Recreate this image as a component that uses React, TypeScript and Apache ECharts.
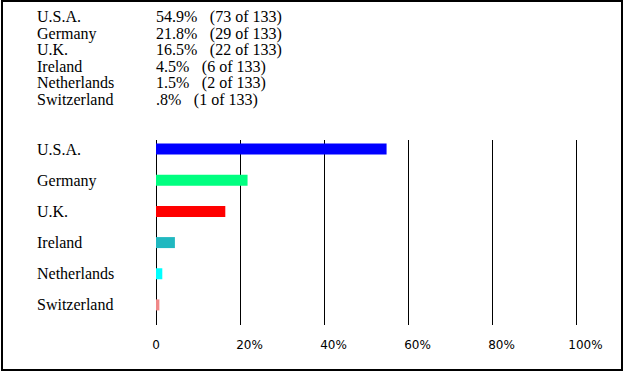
import React, { useEffect, useRef } from "react";
import * as echarts from "echarts";

const countries = ["U.S.A.", "Germany", "U.K.", "Ireland", "Netherlands", "Switzerland"];
const counts = [73, 29, 22, 6, 2, 1];
const total = 133;
const percents = [54.9, 21.8, 16.5, 4.5, 1.5, 0.8];
const percentLabels = ["54.9%", "21.8%", "16.5%", "4.5%", "1.5%", ".8%"];
const barColors = ["#0000ff", "#00ff80", "#ff0000", "#20b8c0", "#00ffff", "#f08888"];
const xTickLabels = ["0", "20%", "40%", "60%", "80%", "100%"];

const SERIF = "'Liberation Serif', 'Times New Roman', serif";
const SANS = "'DejaVu Sans', Verdana, sans-serif";

export default function App() {
  const ref = useRef<HTMLDivElement>(null);
  useEffect(() => {
    if (!ref.current) return;
    const chart = echarts.init(ref.current, null, { renderer: "svg" });
    const left = 156;
    const width = 420;

    const textBlock: any[] = [];
    countries.forEach((c, i) => {
      const y = 16.5 + i * 16.5;
      textBlock.push({
        type: "text",
        x: 37,
        y,
        style: { text: c, font: `16px ${SERIF}`, fill: "#000", verticalAlign: "middle", align: "left" },
      });
      textBlock.push({
        type: "text",
        x: 156,
        y,
        style: {
          text: `{p|${percentLabels[i]}}{c|(${counts[i]} of ${total})}`,
          font: `16px ${SERIF}`,
          fill: "#000",
          verticalAlign: "middle",
          align: "left",
          rich: {
            p: { font: `16px ${SERIF}`, fill: "#000" },
            c: { font: `16px ${SERIF}`, fill: "#000", padding: [0, 0, 0, 12.5] },
          },
        },
      });
    });

    chart.setOption({
      animation: false,
      backgroundColor: "#ffffff",
      grid: [
        { left, width, top: 133.5, height: 187 },
        { left, width, top: 140, height: 185 },
      ],
      xAxis: [
        { gridIndex: 0, type: "value", min: 0, max: 100, interval: 20, show: false },
        {
          gridIndex: 1,
          type: "value",
          min: 0,
          max: 100,
          interval: 20,
          axisLine: { show: false },
          axisTick: { show: false },
          splitLine: { show: true, lineStyle: { color: "#000", width: 1, type: "solid" } },
          axisLabel: {
            margin: 14,
            formatter: (v: number) => {
              const idx = Math.round(v / 20);
              const t = xTickLabels[idx];
              return idx === 0 ? `{z|${t}}` : `{t|${t}}`;
            },
            rich: {
              z: { fontFamily: SANS, fontSize: 12, color: "#000" },
              t: { fontFamily: SANS, fontSize: 12, color: "#000", padding: [0, 0, 0, 19] },
            },
          },
        },
      ],
      yAxis: [
        {
          gridIndex: 0,
          type: "category",
          inverse: true,
          data: countries,
          axisLine: { show: false },
          axisTick: { show: false },
          splitLine: { show: false },
          axisLabel: {
            align: "left",
            margin: left - 37,
            fontFamily: SERIF,
            fontSize: 16,
            color: "#000",
          },
        },
        {
          gridIndex: 1,
          type: "value",
          show: false,
          splitLine: { show: false },
        },
      ],
      series: [
        {
          type: "bar",
          xAxisIndex: 0,
          yAxisIndex: 0,
          barWidth: 11,
          data: percents.map((v, i) => ({ value: v, itemStyle: { color: barColors[i] } })),
          z: 3,
        },
      ],
      graphic: [
        ...textBlock,
        {
          type: "rect",
          shape: { x: 2, y: 1, width: 620, height: 369 },
          style: { fill: "none", stroke: "#000", lineWidth: 2 },
          silent: true,
        },
      ],
    });
    return () => chart.dispose();
  }, []);
  return (
    <div
      ref={ref}
      style={{ position: "fixed", left: 0, top: 0, width: 623, height: 371, background: "#fff" }}
    />
  );
}
